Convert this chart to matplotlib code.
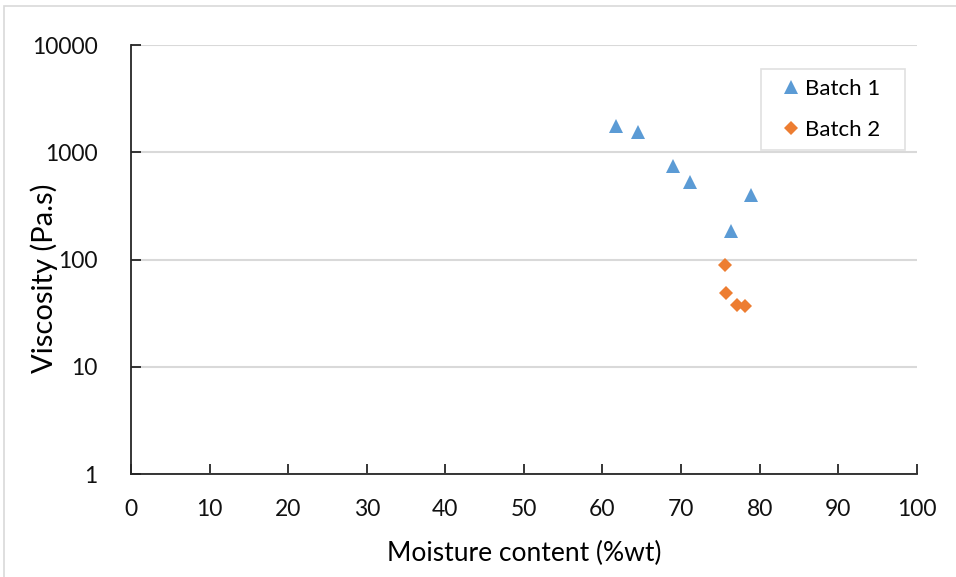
"""Viscosity vs moisture content for two batches."""

import matplotlib
matplotlib.use("Agg")
import matplotlib.pyplot as plt
from matplotlib.patches import Rectangle

# Data
batch1_moisture = [61.7, 64.5, 69.0, 71.2, 76.4, 78.9]
batch1_viscosity = [1750, 1550, 745, 530, 185, 400]
batch2_moisture = [75.6, 75.7, 77.1, 78.1]
batch2_viscosity = [89, 49, 38, 36.5]

x_ticks = list(range(0, 101, 10))
y_ticks = [1, 10, 100, 1000, 10000]
y_tick_labels = ["1", "10", "100", "1000", "10000"]

plt.rcParams['font.family'] = ['Lato', 'DejaVu Sans']

fig = plt.figure(figsize=(9.56, 5.77), dpi=100)
ax = fig.add_axes([0.137, 0.1785, 0.822, 0.7435])

ax.plot(batch1_moisture, batch1_viscosity, linestyle='none', marker='^',
        markersize=10.5, color='#5B9BD5', markeredgewidth=0, label='Batch 1')
ax.plot(batch2_moisture, batch2_viscosity, linestyle='none', marker='D',
        markersize=7, color='#ED7D31', markeredgewidth=0, label='Batch 2')

ax.set_yscale('log')
ax.set_xlim(0, 100)
ax.set_ylim(1, 10000)
ax.set_xticks(x_ticks)
ax.set_yticks(y_ticks)
ax.set_yticklabels(y_tick_labels)
ax.minorticks_off()
ax.tick_params(axis='both', direction='in', length=7, width=1.3, color='#262626',
               labelsize=16.5, labelcolor='#111111')
ax.tick_params(axis='x', pad=18)
ax.tick_params(axis='y', pad=24)
ax.grid(True, axis='y', color='#d9d9d9', linewidth=1.5)
ax.set_axisbelow(True)

for side in ['top', 'right']:
    ax.spines[side].set_visible(False)
for side in ['left', 'bottom']:
    ax.spines[side].set_color('#262626')
    ax.spines[side].set_linewidth(1.3)

ax.set_xlabel('Moisture content (%wt)', fontsize=19)
ax.set_ylabel('Viscosity (Pa.s)', fontsize=21)
ax.xaxis.set_label_coords(0.5, -0.156)
ax.yaxis.set_label_coords(-0.093, 0.457)

# legend box fixed to the reference position
leg = ax.legend(loc='upper left', bbox_to_anchor=(0.8015, 0.944, 0.183, 0),
                mode='expand', fontsize=16, frameon=True, fancybox=False,
                edgecolor='#d9d9d9', borderpad=0.45, labelspacing=0.95,
                handletextpad=-0.25, handlelength=1.8, borderaxespad=0)
leg.get_frame().set_linewidth(1.2)

# light border around the chart area
fig.patches.append(Rectangle((4 / 956, -0.01), 1.02, 1 - 6 / 577 + 0.01,
                             transform=fig.transFigure, fill=False,
                             edgecolor='#d9d9d9', linewidth=1.2))

fig.savefig('out.png', dpi=100)
